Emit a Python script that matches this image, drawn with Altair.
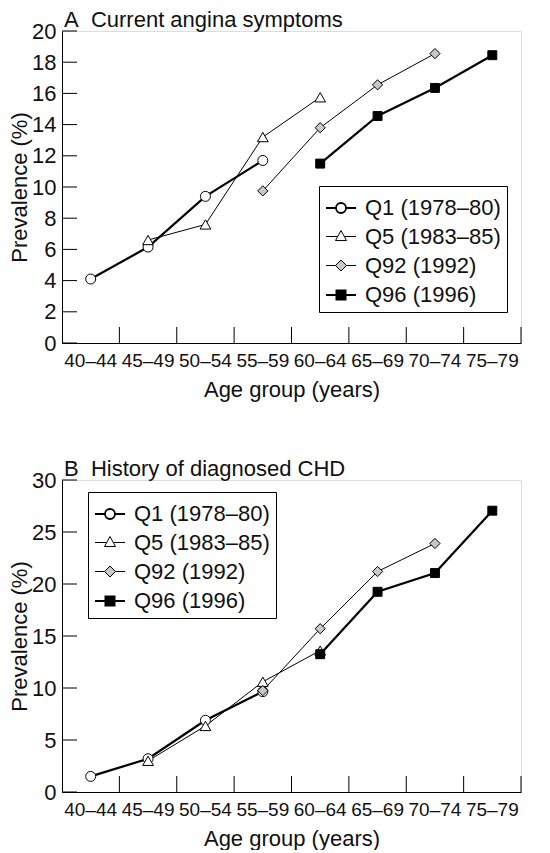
import altair as alt
import pandas as pd

# ---------------- data ----------------
age_groups = ["40–44", "45–49", "50–54", "55–59", "60–64", "65–69", "70–74", "75–79"]
series_names = ["Q1 (1978–80)", "Q5 (1983–85)", "Q92 (1992)", "Q96 (1996)"]
series_start = [0, 1, 3, 4]  # index of first age group of each survey

angina_q1 = [4.1, 6.15, 9.4, 11.7]
angina_q5 = [6.6, 7.6, 13.2, 15.75]
angina_q92 = [9.75, 13.8, 16.55, 18.55]
angina_q96 = [11.5, 14.55, 16.35, 18.45]

chd_q1 = [1.5, 3.2, 6.9, 9.65]
chd_q5 = [3.0, 6.35, 10.6, 13.6]
chd_q92 = [9.75, 15.7, 21.2, 23.9]
chd_q96 = [13.25, 19.25, 21.05, 27.05]

angina_yticks = [0, 2, 4, 6, 8, 10, 12, 14, 16, 18, 20]
chd_yticks = [0, 5, 10, 15, 20, 25, 30]

# ---------------- style ----------------
FONT = "Liberation Sans"
INK = "#111111"
W, H = 459, 312

line_widths = [2.2, 1.0, 1.0, 2.2]
legend_widths = [1.8, 1.0, 1.0, 2.0]
marker_shapes = ["circle", "triangle-up", "diamond", "square"]
marker_sizes = [100, 115, 105, 80]
marker_fills = ["white", "white", "#c8c8c8", "black"]
marker_strokes = ["black", "black", "black", "black"]
legend_paths = [
    "M-1,0L-0.333,0M0.333,0L1,0M-0.333,0A0.333,0.333,0,1,0,0.333,0A0.333,0.333,0,1,0,-0.333,0Z",
    "M-1,0L-0.24,0M0.24,0L1,0M0,-0.4L0.367,0.27L-0.367,0.27Z",
    "M-1,0L-0.367,0M0.367,0L1,0M0,-0.367L0.367,0L0,0.367L-0.367,0Z",
    "M-1,0L-0.3,0M0.3,0L1,0M-0.3,-0.3L0.3,-0.3L0.3,0.3L-0.3,0.3Z",
]


def long_frame(vals):
    rows = []
    for name, start, v in zip(series_names, series_start, vals):
        for i, val in enumerate(v):
            rows.append({"series": name, "age": age_groups[start + i], "value": val})
    return pd.DataFrame(rows)


def oscale(rng):
    return alt.Scale(type="ordinal", domain=series_names, range=rng)


def panel(vals, yticks, ymax, title, lx, ly):
    df = long_frame(vals)
    xscale = alt.Scale(domain=age_groups, paddingInner=0, paddingOuter=0)
    yscale = alt.Scale(domain=[0, ymax], nice=False, zero=True)

    x_axis = alt.Axis(
        title="Age group (years)", ticks=False, domainColor="black", domainWidth=1,
        labelFontSize=19, labelFont=FONT, labelColor=INK, labelPadding=8, labelAngle=0,
        titleFontSize=22, titleFont=FONT, titleColor=INK, titleFontWeight="normal",
        titlePadding=9, grid=False,
    )
    y_axis = alt.Axis(
        title="Prevalence (%)", values=yticks, ticks=False, domainColor="black", domainWidth=1,
        labelFontSize=22, labelFont=FONT, labelColor=INK, labelPadding=6,
        titleFontSize=22, titleFont=FONT, titleColor=INK, titleFontWeight="normal",
        titlePadding=0, grid=False,
    )

    def X(**kw):
        return alt.X("age:N", scale=xscale, sort=age_groups, axis=x_axis, **kw)

    def Y():
        return alt.Y("value:Q", scale=yscale, axis=y_axis)

    base = alt.Chart(df)

    lines = base.mark_line(color="black").encode(
        x=X(),
        y=Y(),
        detail="series:N",
        strokeWidth=alt.StrokeWidth("series:N", scale=oscale(line_widths), legend=None),
    )

    points = base.mark_point(filled=True, stroke="black", strokeWidth=1, opacity=1).encode(
        x=X(),
        y=Y(),
        shape=alt.Shape("series:N", scale=oscale(marker_shapes), legend=None),
        fill=alt.Fill("series:N", scale=oscale(marker_fills), legend=None),
        size=alt.Size("series:N", scale=oscale(marker_sizes), legend=None),
    )

    leg = alt.Legend(
        title=None, orient="none", legendX=lx, legendY=ly,
        symbolSize=900, symbolStrokeColor="black", symbolOpacity=1,
        labelFontSize=22, labelFont=FONT, labelColor=INK, labelOffset=8, labelLimit=0,
        padding=6, rowPadding=2, strokeColor="black", fillColor="white",
    )
    legend_layer = base.mark_point(filled=True, stroke="black", opacity=0, size=900).encode(
        x=X(),
        y=Y(),
        shape=alt.Shape("series:N", scale=oscale(legend_paths), legend=leg),
        fill=alt.Fill("series:N", scale=oscale(marker_fills), legend=leg),
        stroke=alt.Stroke("series:N", scale=oscale(marker_strokes), legend=leg),
        strokeWidth=alt.StrokeWidth("series:N", scale=oscale(legend_widths), legend=leg),
    )

    ytick_df = pd.DataFrame({"value": yticks})
    yticks_layer = alt.Chart(ytick_df).mark_rule(color="black", strokeWidth=1).encode(
        y=Y(), x=alt.value(0), x2=alt.value(15)
    )
    xtick_df = pd.DataFrame({"age": age_groups})
    xticks_layer = alt.Chart(xtick_df).mark_rule(color="black", strokeWidth=1).encode(
        x=X(bandPosition=1),
        y=alt.value(H - 16), y2=alt.value(H),
    )

    return alt.layer(yticks_layer, xticks_layer, lines, points, legend_layer).resolve_scale(
        shape="independent", fill="independent", stroke="independent",
        strokeWidth="independent", size="independent"
    ).properties(
        width=W, height=H,
        title=alt.TitleParams(title, anchor="start", frame="group", fontSize=22, font=FONT,
                              color=INK, fontWeight="normal", offset=-12, dx=2),
    )


top = panel([angina_q1, angina_q5, angina_q92, angina_q96], angina_yticks, 20,
            "A\u00a0\u00a0Current angina symptoms", 257, 155)
bottom = panel([chd_q1, chd_q5, chd_q92, chd_q96], chd_yticks, 30,
               "B\u00a0\u00a0History of diagnosed CHD", 26, 12)

chart = alt.vconcat(top, bottom, spacing=56).configure_view(stroke=None).configure(
    background="white", padding=0
)

chart.save("out.html", embed_options={"renderer": "svg", "actions": False})
